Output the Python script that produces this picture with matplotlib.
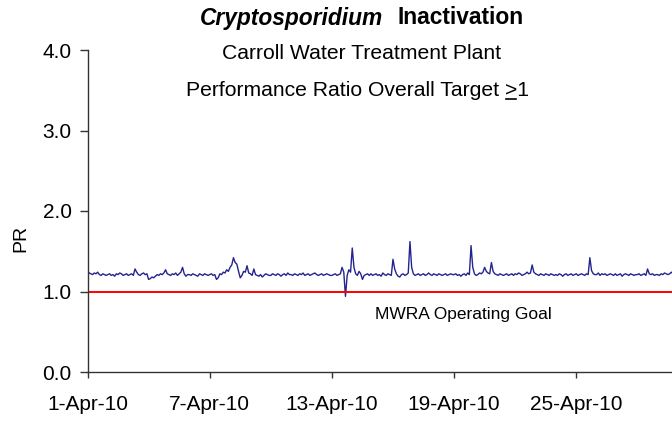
import matplotlib
matplotlib.use("Agg")
import matplotlib.pyplot as plt
import matplotlib.dates as mdates
from matplotlib.lines import Line2D
from matplotlib.offsetbox import TextArea, HPacker, AnchoredOffsetbox
import pandas as pd

plt.rcParams['font.family'] = ['Liberation Sans', 'DejaVu Sans']

# Performance ratio, one reading every 2 hours starting 1-Apr-2010 (12 per day)
pr_values = [
    1.25, 1.23, 1.22, 1.21, 1.23, 1.22, 1.24, 1.21, 1.20, 1.22, 1.21, 1.20,
    1.21, 1.22, 1.20, 1.21, 1.19, 1.22, 1.21, 1.23, 1.22, 1.20, 1.21, 1.22,
    1.20, 1.21, 1.22, 1.20, 1.28, 1.24, 1.21, 1.20, 1.22, 1.23, 1.21, 1.22,
    1.15, 1.16, 1.18, 1.17, 1.19, 1.21, 1.20, 1.22, 1.21, 1.23, 1.27, 1.22,
    1.21, 1.20, 1.22, 1.21, 1.23, 1.20, 1.22, 1.24, 1.30, 1.22, 1.19, 1.21,
    1.21, 1.20, 1.22, 1.21, 1.20, 1.19, 1.22, 1.21, 1.20, 1.22, 1.21, 1.20,
    1.21, 1.22, 1.20, 1.21, 1.15, 1.17, 1.22, 1.21, 1.24, 1.23, 1.27, 1.25,
    1.30, 1.33, 1.42, 1.36, 1.34, 1.25, 1.17, 1.20, 1.25, 1.24, 1.32, 1.23,
    1.22, 1.20, 1.28, 1.21, 1.20, 1.19, 1.21, 1.18, 1.20, 1.22, 1.21, 1.20,
    1.20, 1.22, 1.21, 1.20, 1.22, 1.21, 1.19, 1.21, 1.22, 1.20, 1.23, 1.21,
    1.21, 1.20, 1.22, 1.21, 1.20, 1.22, 1.21, 1.23, 1.20, 1.21, 1.22, 1.20,
    1.21, 1.22, 1.23, 1.21, 1.20, 1.21, 1.22, 1.20, 1.21, 1.22, 1.21, 1.20,
    1.20, 1.21, 1.22, 1.20, 1.21, 1.22, 1.30, 1.24, 0.94, 1.20, 1.27, 1.24,
    1.54, 1.30, 1.22, 1.20, 1.25, 1.22, 1.15, 1.20, 1.21, 1.22, 1.20, 1.22,
    1.20, 1.21, 1.22, 1.20, 1.21, 1.19, 1.23, 1.21, 1.20, 1.22, 1.21, 1.20,
    1.40, 1.28, 1.22, 1.19, 1.18, 1.21, 1.22, 1.20, 1.21, 1.23, 1.62, 1.30,
    1.22, 1.20, 1.21, 1.22, 1.20, 1.21, 1.22, 1.20, 1.21, 1.23, 1.21, 1.20,
    1.22, 1.21, 1.20, 1.22, 1.21, 1.20, 1.21, 1.22, 1.20, 1.21, 1.22, 1.21,
    1.21, 1.22, 1.20, 1.21, 1.19, 1.21, 1.22, 1.20, 1.23, 1.21, 1.57, 1.30,
    1.22, 1.20, 1.21, 1.23, 1.22, 1.24, 1.30, 1.25, 1.23, 1.22, 1.36, 1.25,
    1.22, 1.21, 1.20, 1.22, 1.21, 1.20, 1.21, 1.22, 1.20, 1.21, 1.22, 1.20,
    1.22, 1.21, 1.23, 1.22, 1.20, 1.21, 1.22, 1.24, 1.22, 1.23, 1.33, 1.24,
    1.22, 1.21, 1.20, 1.22, 1.21, 1.20, 1.22, 1.21, 1.20, 1.22, 1.21, 1.20,
    1.21, 1.20, 1.22, 1.21, 1.19, 1.21, 1.22, 1.20, 1.21, 1.22, 1.20, 1.21,
    1.22, 1.20, 1.21, 1.22, 1.21, 1.20, 1.22, 1.21, 1.42, 1.26, 1.22, 1.21,
    1.21, 1.23, 1.20, 1.22, 1.21, 1.22, 1.20, 1.21, 1.22, 1.21, 1.20, 1.22,
    1.20, 1.21, 1.22, 1.19, 1.21, 1.22, 1.21, 1.20, 1.22, 1.21, 1.20, 1.21,
    1.21, 1.22, 1.20, 1.21, 1.22, 1.20, 1.28, 1.22, 1.21, 1.22, 1.20, 1.21,
    1.21, 1.20, 1.22, 1.21, 1.23, 1.22, 1.21, 1.22, 1.24, 1.22, 1.21, 1.24,
]
goal_value = 1.0
tick_dates = ["2010-04-01", "2010-04-07", "2010-04-13", "2010-04-19", "2010-04-25"]
y_ticks = [0.0, 1.0, 2.0, 3.0, 4.0]

times = pd.date_range("2010-04-01", periods=len(pr_values), freq="2h")

W, H = 672, 421
fig = plt.figure(figsize=(W/100, H/100), dpi=100)
ax_left, ax_y0, ax_y4 = 87.5, 372, 50
ax = fig.add_axes([ax_left/W, (H-ax_y0)/H, 1 - ax_left/W, (ax_y0-ax_y4)/H])

ax.plot(times, pr_values, color="#24248f", lw=1.0)
ax.axhline(goal_value, color="#ff0000", lw=1.4)

x0 = pd.Timestamp("2010-04-01")
ax.set_xlim(x0, x0 + pd.Timedelta(days=28.7))
ax.set_ylim(0, 4)
ax.set_yticks(y_ticks)
ax.set_yticklabels([f"{v:.1f}" for v in y_ticks])
ax.set_xticks(pd.to_datetime(tick_dates))
ax.xaxis.set_major_formatter(mdates.DateFormatter("%-d-%b-%y"))

for s in ["top", "right"]:
    ax.spines[s].set_visible(False)
for s in ["left", "bottom"]:
    ax.spines[s].set_color("#333333")
    ax.spines[s].set_linewidth(1.0)
ax.tick_params(axis="y", direction="out", length=6, width=1, color="#333333",
               labelsize=15, pad=5.5)
ax.tick_params(axis="x", direction="out", length=4.5, width=1, color="#333333",
               labelsize=15, pad=12)

fig.text(21/W, 1 - 238/H, "PR", fontsize=14, rotation=90, ha="center", va="center")

ax.text(x0 + pd.Timedelta(days=18.45), 0.66, "MWRA Operating Goal", fontsize=12.5,
        ha="center", va="baseline")

cx = 362/W
# Title: italic-bold species name followed by bold word
ta1 = TextArea("Cryptosporidium", textprops=dict(fontsize=16.4, fontweight="bold",
                                                 fontstyle="italic"))
ta2 = TextArea("Inactivation", textprops=dict(fontsize=16.4, fontweight="bold"))
box = HPacker(children=[ta1, ta2], align="baseline", pad=0, sep=10)
ab = AnchoredOffsetbox(loc="center", child=box, pad=0, frameon=False,
                       bbox_to_anchor=(cx, 1 - 18/H), bbox_transform=fig.transFigure)
fig.add_artist(ab)

SUB = 15.2
fig.text(cx, 1 - 59/H, "Carroll Water Treatment Plant", fontsize=SUB,
         ha="center", va="baseline")
sub2 = "Performance Ratio Overall Target >1"
t2 = fig.text(357/W, 1 - 96/H, sub2, fontsize=SUB, ha="center", va="baseline")

# underline the ">" sign (meaning "greater than or equal")
fig.canvas.draw()
r = fig.canvas.get_renderer()
bb = t2.get_window_extent(r)
def width(s):
    t = fig.text(0, 0, s, fontsize=SUB)
    w = t.get_window_extent(r).width
    t.remove()
    return w
w_one = width("1")
w_gt = width(">")
gx1 = bb.x1 - w_one
gx0 = gx1 - w_gt
base_y = (1 - 96/H) * H
uy = base_y - 3
fig.add_artist(Line2D([(gx0 + 1)/W, (gx1 - 1)/W], [uy/H, uy/H], color="black", lw=1.2,
                      transform=fig.transFigure))

fig.savefig("out.png", dpi=100)
